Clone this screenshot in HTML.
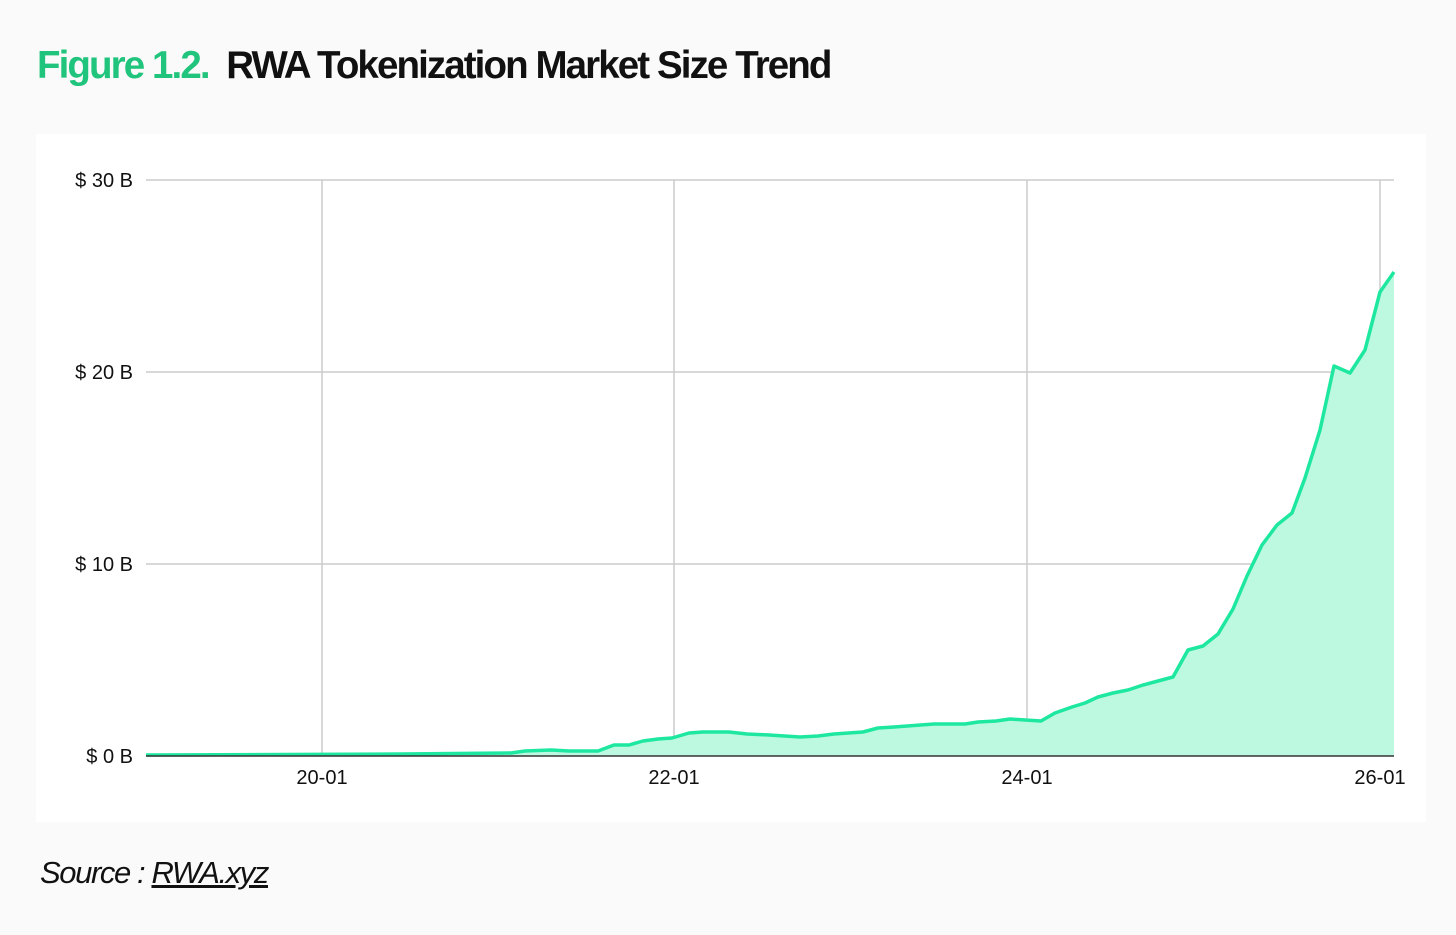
<!DOCTYPE html>
<html><head><meta charset="utf-8"><style>
html,body{margin:0;padding:0;background:#fafafa;width:1456px;height:935px;overflow:hidden;font-family:"Liberation Sans",sans-serif;}
.t{position:absolute;left:37px;top:44px;font-size:38.5px;letter-spacing:-1.9px;font-weight:bold;white-space:nowrap;}
.g{color:#20c47c}
.card{position:absolute;left:36px;top:134px;width:1390px;height:688px;background:#fff;}
.src{position:absolute;left:40px;top:855px;font-size:31px;font-style:italic;letter-spacing:-1.4px;color:#111;}
</style></head><body>
<div class="t"><span class="g">Figure 1.2.</span>&nbsp;&nbsp;<span style="color:#111">RWA Tokenization Market Size Trend</span></div>
<div class="card"></div>
<svg style="position:absolute;left:0;top:0" width="1456" height="935" font-family="Liberation Sans, sans-serif" font-size="20" fill="#111">
<g stroke="#ccc" stroke-width="1.5">
<line x1="146" y1="180" x2="1394" y2="180"/><line x1="146" y1="372" x2="1394" y2="372"/><line x1="146" y1="564" x2="1394" y2="564"/>
<line x1="322" y1="180" x2="322" y2="756"/><line x1="674" y1="180" x2="674" y2="756"/><line x1="1027" y1="180" x2="1027" y2="756"/><line x1="1380" y1="180" x2="1380" y2="756"/>
</g>
<polygon fill="#bdf9e1" points="146,756 146,755 400,754 511,753 525,751 551,750 569,751 598,751 614,745 629,745 643,741 658,739 672,738 689,733 703,732 729,732 747,734 769,735 800,737 818,736 834,734 863,732 878,728 894,727 934,724 965,724 978,722 996,721 1010,719 1025,720 1041,721 1055,713 1072,707 1085,703 1098,697 1113,693 1128,690 1143,685 1158,681 1173,677 1188,650 1203,646 1218,634 1233,609 1247,576 1262,545 1277,525 1292,513 1305,478 1320,430 1334,366 1350,373 1365,350 1380,292 1394,272 1394,756"/>
<polyline fill="none" stroke="#1ee8a0" stroke-width="3.5" stroke-linejoin="round" points="146,755 400,754 511,753 525,751 551,750 569,751 598,751 614,745 629,745 643,741 658,739 672,738 689,733 703,732 729,732 747,734 769,735 800,737 818,736 834,734 863,732 878,728 894,727 934,724 965,724 978,722 996,721 1010,719 1025,720 1041,721 1055,713 1072,707 1085,703 1098,697 1113,693 1128,690 1143,685 1158,681 1173,677 1188,650 1203,646 1218,634 1233,609 1247,576 1262,545 1277,525 1292,513 1305,478 1320,430 1334,366 1350,373 1365,350 1380,292 1394,272"/>
<line x1="146" y1="756" x2="1394" y2="756" stroke="#333" stroke-width="1.5"/>
<g text-anchor="end"><text x="133" y="187">$ 30 B</text><text x="133" y="379">$ 20 B</text><text x="133" y="571">$ 10 B</text><text x="133" y="763">$ 0 B</text></g>
<g text-anchor="middle"><text x="322" y="784">20-01</text><text x="674" y="784">22-01</text><text x="1027" y="784">24-01</text><text x="1380" y="784">26-01</text></g>
</svg>
<div class="src">Source : <span style="text-decoration:underline">RWA.xyz</span></div>
</body></html>
